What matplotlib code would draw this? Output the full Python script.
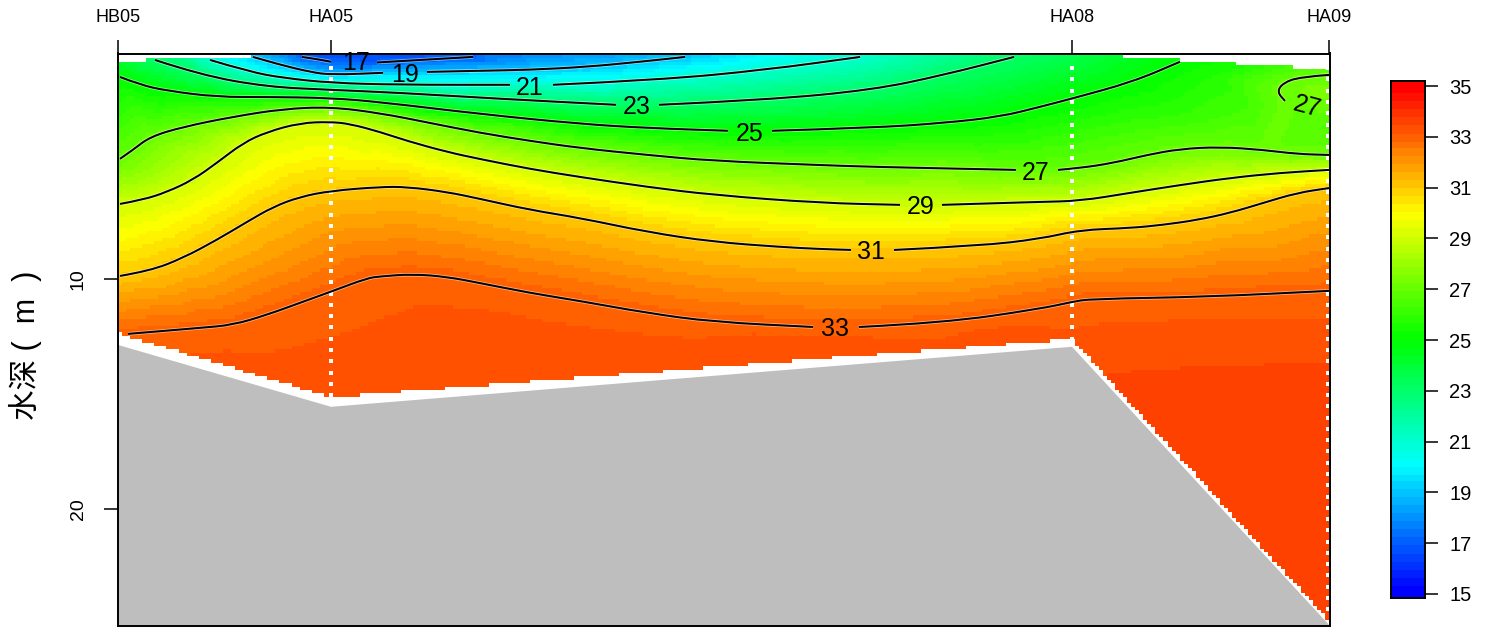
import numpy as np
import matplotlib
matplotlib.use('Agg')
import matplotlib.pyplot as plt
import matplotlib.tri as mtri
import matplotlib.patheffects as pe
from matplotlib.colors import LinearSegmentedColormap
from matplotlib.patches import PathPatch
from matplotlib.path import Path

plt.rcParams['font.family'] = ['Liberation Sans', 'Noto Sans CJK SC', 'DejaVu Sans']

# stations along the section
stations = ['HB05', 'HA05', 'HA08', 'HA09']
station_x = [0.0, 21.3, 95.4, 121.1]
bottom_depth = [12.85, 15.54, 12.93, 25.02]
field_bottom = [12.35, 15.12, 12.6, 24.85]
top_depth = [0.508, 0.21, 0.188, 0.855]

# isolines as (distance, depth), broken where a label sits
iso17 = [[(18.4, .33), (19.7, .41), (21.3, .54)],
         [(25.9, .57), (30.2, .46), (35.5, .33)]]
iso19 = [[(13.5, .33), (16.2, .67), (19.2, .98), (21.3, 1.11), (26.5, 1.02)],
         [(30.9, .98), (36.2, .93), (41.2, .89), (46.9, .76), (52.2, .54), (56.7, .33)]]
iso21 = [[(9.2, .46), (13.2, .98), (16.5, 1.24), (21.3, 1.46), (28.2, 1.54), (39.2, 1.54)],
         [(43.5, 1.54), (54.1, 1.33), (64.8, .89), (74.2, .33)]]
iso23 = [[(3.7, .46), (8.2, 1.11), (14.9, 1.63), (21.3, 1.76), (28.2, 1.89), (38.2, 2.15), (49.8, 2.41)],
         [(54.1, 2.41), (64.8, 2.2), (75.5, 1.76), (82.6, 1.11), (89.6, .33)]]
iso25 = [[(.2, 1.2), (2.2, 1.54), (4.9, 1.8), (9.9, 2.07), (14.9, 2.07), (21.2, 2.11), (26.2, 2.29),
          (36.2, 2.81), (46.2, 3.24), (52.9, 3.42), (61, 3.54)],
         [(65.4, 3.54), (75.5, 3.41), (82.6, 3.2), (88.2, 2.93), (92.2, 2.5), (95.3, 2.15),
          (101.5, 1.41), (106.2, .54)]]
iso27 = [[(.2, 4.76), (1.5, 4.37), (3.2, 3.8), (6.5, 3.37), (11.5, 2.93), (16.5, 2.59), (21.2, 2.5),
          (26.2, 2.77), (31.2, 3.2), (36.2, 3.63), (41.2, 3.98), (46.2, 4.29), (52.9, 4.59), (59.5, 4.85),
          (70.2, 5.03), (75.5, 5.11), (89.8, 5.24)],
         [(94, 5.24), (96.2, 5.16), (99.5, 4.94), (102.9, 4.59), (106.2, 4.33), (110.2, 4.24), (114.5, 4.37),
          (117.9, 4.55), (121.1, 4.59)],
         [(121.1, 1.11), (118.2, 1.2), (116.5, 1.46), (115.9, 1.85), (116.7, 2.24)]]
iso29 = [[(.2, 6.72), (2.5, 6.54), (4.9, 6.2), (7.5, 5.67), (9.9, 4.93), (12.5, 4.07), (14.9, 3.59),
          (18.2, 3.2), (21.2, 3.15), (23.2, 3.24), (26.2, 3.59), (28.9, 3.98), (32.9, 4.46), (36.2, 4.77),
          (41.2, 5.2), (46.2, 5.55), (52.9, 5.98), (59.5, 6.33), (70.2, 6.68), (78.2, 6.76)],
         [(82.4, 6.76), (92.2, 6.63), (96.2, 6.59), (101.2, 6.24), (106.2, 5.9), (111.2, 5.59), (116.2, 5.37),
          (121.1, 5.24)]]
iso31 = [[(.2, 9.85), (3.2, 9.63), (6.5, 9.07), (9.9, 8.28), (12.9, 7.5), (15.5, 6.85), (18.2, 6.41),
          (21.3, 6.15), (26.2, 5.98), (28.9, 5.98), (32.9, 6.2), (36.2, 6.5), (41.2, 6.98), (46.2, 7.33),
          (52.9, 7.94), (59.5, 8.37), (66.2, 8.59), (70.2, 8.68), (73.3, 8.72)],
         [(77.6, 8.72), (86.2, 8.54), (92.2, 8.24), (96.2, 7.85), (101.2, 7.77), (104.5, 7.63), (107.9, 7.42),
          (111.2, 7.11), (114.5, 6.68), (117.9, 6.24), (121.1, 6.03)]]
iso33 = [[(1, 12.37), (8.2, 12.11), (11.5, 11.98), (14.9, 11.54), (18.2, 11.02), (21.5, 10.5), (24.9, 9.95),
          (26.2, 9.87), (29.5, 9.77), (32.9, 9.89), (36.2, 10.16), (41.2, 10.59), (46.2, 10.94), (52.9, 11.46),
          (59.5, 11.85), (69.5, 12.07)],
         [(74.1, 12.07), (82.6, 11.89), (92.2, 11.28), (95.4, 10.98), (97.2, 10.85), (108.9, 10.76), (121.1, 10.5)]]
iso_levels = [17, 19, 21, 23, 25, 27, 29, 31, 33]
isolines = [iso17, iso19, iso21, iso23, iso25, iso27, iso29, iso31, iso33]

# contour labels: text, distance, depth, angle
label_text = ['17', '19', '21', '23', '25', '27', '29', '31', '33', '27']
label_x = [23.8, 28.7, 41.2, 51.9, 63.2, 91.8, 80.3, 75.3, 71.7, 118.9]
label_depth = [.58, 1.13, 1.68, 2.5, 3.66, 5.38, 6.86, 8.81, 12.15, 2.5]
label_angle = [0, 0, 0, 0, 0, 0, 0, 0, 0, -15]

# values away from the isolines: sea surface, upper green water, sea bed and the side edges
surface_x = [0, 5, 10, 13.5, 18.4, 21.3, 26, 30, 35.5, 46, 56.7, 65, 74.2, 89.6, 106.2, 115, 121.1]
surface_depth = [.1, .1, .1, .1, .1, .1, .1, .1, .1, .1, .1, .1, .1, .1, .1, .1, .1]
surface_value = [24, 22.5, 20.6, 18.6, 16.8, 16.4, 16.4, 16.6, 17, 17.8, 18.8, 19.8, 20.8, 22.8, 24.8, 25.3, 25.8]

edge_x = [0, 0, 0, 0, 0, 0, 1]
edge_depth = [.5, 1.15, 4.9, 6.75, 9.9, 12.4, 12.9]
edge_value = [24.2, 25, 27, 29, 31, 33, 33.05]

green_x = [121.1, 121.1, 119.5, 121.1, 113, 100, 108, 75.5, 110, 40, 10]
green_depth = [.6, 2, 1.8, 3.4, 2.5, 3, 3, 4.3, 1.2, 3.3, 2.5]
green_value = [26.2, 27.3, 27.3, 26.5, 26.2, 25.8, 26.1, 26, 25.7, 26, 26]

# orange bands near the bed, edge of the 33.1 band then values under it
deep_x = [10.9, 14.9, 18.2, 20.9, 21.3, 23.7, 23.2, 30, 36.2, 43.3, 57.6, 82.6, 95.4, 98.2, 108.2, 121.1,
          14, 19, 30, 50.5, 69, 87, 97,
          99.2, 102.2, 110, 121.1, 104, 112, 121.1, 121.1]
deep_depth = [13.15, 13.3, 13.95, 14.7, 15.0, 13.8, 12.33, 11.19, 11.3, 11.9, 12.6, 12.6, 12.2, 11.98, 11.76, 11.76,
              14.05, 14.9, 14, 13.6, 13.1, 12.9, 13.2,
              14.16, 13.94, 13.8, 13.6, 18, 25.2, 25.2, 18]
deep_value = [33.13] * 16 + [33.25, 33.25, 33.3, 33.3, 33.3, 33.3, 33.3,
                             33.44, 33.44, 33.44, 33.44, 33.6, 33.6, 33.6, 33.6]

cbar_ticks = [15, 17, 19, 21, 23, 25, 27, 29, 31, 33, 35]


def smooth_path(points):
    # quadratic spline through the segment midpoints
    pts = np.array(points, dtype=float)
    verts = [pts[0]]
    codes = [Path.MOVETO]
    for i in range(1, len(pts) - 1):
        verts += [pts[i], (pts[i] + pts[i + 1]) / 2]
        codes += [Path.CURVE3, Path.CURVE3]
    verts.append(pts[-1])
    codes.append(Path.LINETO)
    return Path(verts, codes)


# pile up all known points and let the library fill the field
px = surface_x + edge_x + green_x + deep_x
pd = surface_depth + edge_depth + green_depth + deep_depth
pv = surface_value + edge_value + green_value + deep_value
for level, segs in zip(iso_levels, isolines):
    for seg in segs:
        for a, b in seg:
            px.append(a)
            pd.append(b)
            pv.append(level)
px = np.array(px, dtype=float)
pd = np.array(pd, dtype=float)
pv = np.array(pv, dtype=float)

tri = mtri.Triangulation(px * 0.25, pd)
interp = mtri.LinearTriInterpolator(tri, pv)

x_edges = np.linspace(0, 121.1, 301)
d_edges = np.linspace(0.1, 25.1, 171)
xc = (x_edges[:-1] + x_edges[1:]) / 2
dc = (d_edges[:-1] + d_edges[1:]) / 2
gx, gd = np.meshgrid(xc, dc)
field = interp(gx * 0.25, gd)
sea_floor = np.interp(gx, station_x, field_bottom)
sea_top = np.interp(gx, station_x, top_depth)
field = np.ma.masked_where((gd > sea_floor) | (gd < sea_top), field)

jet = LinearSegmentedColormap.from_list(
    'r_jet', ['#0000FF', '#00FFFF', '#00FF00', '#FFFF00', '#FF0000'], N=64)

fig = plt.figure(figsize=(14.92, 6.27), dpi=100)
W, H = 1492.0, 627.0
ax = fig.add_axes([117.5 / W, 1 - 626 / H, 1212 / W, 572.5 / H])

ax.pcolormesh(x_edges, d_edges, field, cmap=jet, vmin=15, vmax=35,
              shading='flat', antialiased=False, rasterized=True, zorder=1)

# sea bed
fill_x = station_x + [station_x[-1], station_x[0]]
fill_d = bottom_depth + [25.3, 25.3]
ax.fill(fill_x, fill_d, color='#BEBEBE', lw=0, zorder=2)

# sampling depths at the stations
for sx, bot in zip(station_x[1:], bottom_depth[1:]):
    dots = np.arange(0.82, bot - 0.3, 0.49)
    ax.scatter(np.full(len(dots), sx - 0.05), dots, marker='s', s=5, color='white',
               linewidths=0, zorder=3)

halo = [pe.Stroke(linewidth=2.6, foreground='white', alpha=0.5), pe.Normal()]
for segs in isolines:
    for seg in segs:
        line = PathPatch(smooth_path(seg), fill=False, edgecolor='black', lw=1.45, zorder=4)
        line.set_path_effects(halo)
        ax.add_patch(line)

for t, lx, ld, la in zip(label_text, label_x, label_depth, label_angle):
    ax.text(lx, ld, t, fontsize=18, rotation=la, ha='center', va='center',
            color='black', zorder=5, clip_on=False)

ax.set_xlim(-0.05, 121.15)
ax.set_ylim(25.07, 0.18)
for s in ax.spines.values():
    s.set_linewidth(1.4)
    s.set_zorder(6)

ax.xaxis.tick_top()
ax.set_xticks(station_x)
ax.set_xticklabels(stations, fontsize=13)
ax.tick_params(axis='x', length=10, width=1.1, pad=10)
ax.set_yticks([10, 20])
ax.set_yticklabels(['10', '20'], fontsize=14, rotation=90, va='center')
ax.tick_params(axis='y', length=10, width=1.1, pad=12)

fig.text(25 / W, 1 - 345 / H, '水深 (  m  )', fontsize=22, rotation=90,
         ha='center', va='center')

# colour bar
cax = fig.add_axes([1391 / W, 1 - 598 / H, 34 / W, 517 / H])
bar_values = np.linspace(14.84, 35.2, 257)
cax.pcolormesh([0, 1], bar_values, np.clip(bar_values[:-1, None], 15, 35), cmap=jet,
               vmin=15, vmax=35, shading='flat', antialiased=False)
cax.set_ylim(14.84, 35.2)
cax.set_xticks([])
cax.yaxis.tick_right()
cax.set_yticks(cbar_ticks)
cax.set_yticklabels([str(t) for t in cbar_ticks], fontsize=14.5)
cax.tick_params(axis='y', length=9.5, width=1.1, pad=8)
for s in cax.spines.values():
    s.set_linewidth(1.4)

fig.savefig('out.png', dpi=100)
